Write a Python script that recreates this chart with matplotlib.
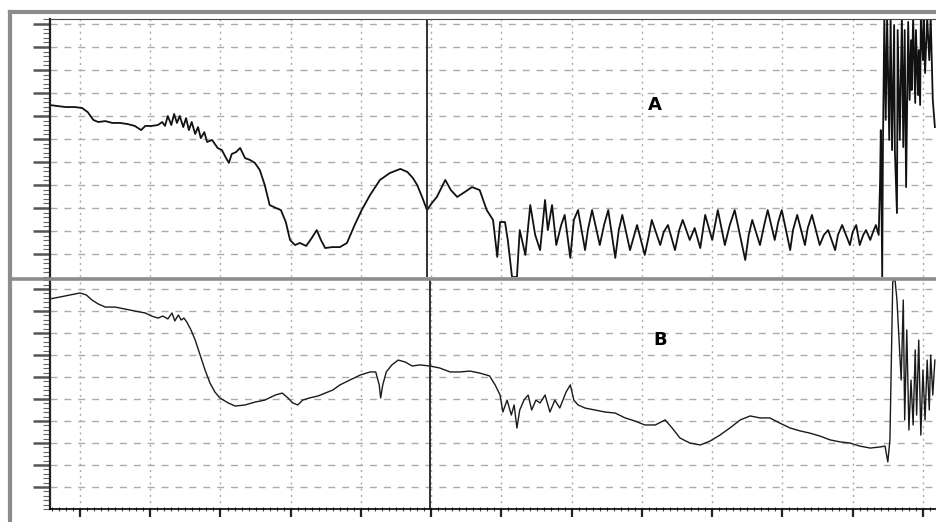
import matplotlib
matplotlib.use("Agg")
import matplotlib.pyplot as plt
import numpy as np
from matplotlib.ticker import AutoMinorLocator, FixedLocator
from matplotlib.lines import Line2D

# espectro A (x en divisiones de la rejilla, y en divisiones)
xa = [-0.43, -0.31, -0.20, -0.07, 0.03, 0.11, 0.19, 0.26, 0.36, 0.46, 0.57, 0.68, 0.78, 0.87, 0.93,
      1.02, 1.11, 1.17, 1.21, 1.25, 1.30, 1.34, 1.38, 1.42, 1.47, 1.51, 1.55, 1.59, 1.64, 1.68,
      1.72, 1.77, 1.81, 1.88, 1.96, 2.02, 2.08, 2.12, 2.16, 2.22, 2.28, 2.35, 2.42, 2.49, 2.56,
      2.63, 2.70, 2.79, 2.86, 2.93, 2.99, 3.06, 3.13, 3.22, 3.30, 3.37, 3.43, 3.49, 3.59, 3.70,
      3.80, 3.91, 4.01, 4.13, 4.27, 4.41, 4.56, 4.66, 4.74, 4.80, 4.87, 4.94, 5.01, 5.08, 5.20,
      5.28, 5.37, 5.48, 5.58, 5.69, 5.79, 5.88, 5.94, 5.98, 6.05, 6.09, 6.15, 6.22, 6.26,
      6.34, 6.41, 6.48, 6.55, 6.62, 6.66, 6.72, 6.78, 6.85, 6.90, 6.98, 7.03, 7.09, 7.19, 7.23,
      7.29, 7.40, 7.46, 7.52, 7.62, 7.67, 7.72, 7.83, 7.89, 7.93, 8.04, 8.10, 8.14, 8.26, 8.31,
      8.37, 8.47, 8.53, 8.58, 8.68, 8.75, 8.83, 8.90, 9.00, 9.08, 9.18, 9.25, 9.32, 9.47, 9.52,
      9.57, 9.68, 9.74, 9.79, 9.89, 9.94, 9.99, 10.11, 10.15, 10.21, 10.32, 10.36, 10.42, 10.53,
      10.59, 10.65, 10.75, 10.79, 10.85, 10.96, 11.00, 11.05, 11.10, 11.15, 11.19, 11.25, 11.29,
      11.33, 11.37, 11.39, 11.40, 11.42,
      11.43, 11.45, 11.47, 11.49, 11.52, 11.54, 11.56, 11.59, 11.60, 11.63, 11.64, 11.67, 11.70,
      11.72, 11.74, 11.76, 11.79, 11.81, 11.83, 11.84, 11.86, 11.89, 11.90, 11.93, 11.94, 11.96,
      11.97, 12.00, 12.01, 12.03, 12.06, 12.09, 12.11, 12.14, 12.17]
ya = [7.48, 7.43, 7.39, 7.39, 7.35, 7.17, 6.83, 6.74, 6.78, 6.70, 6.70, 6.65, 6.57, 6.39, 6.57,
      6.57, 6.61, 6.74, 6.57, 7.00, 6.61, 7.09, 6.70, 7.00, 6.52, 6.91, 6.39, 6.74, 6.22, 6.52,
      6.04, 6.30, 5.87, 5.96, 5.61, 5.52, 5.17, 4.96, 5.35, 5.43, 5.61, 5.17, 5.09, 4.96, 4.65,
      4.00, 3.13, 3.00, 2.91, 2.39, 1.61, 1.39, 1.48, 1.35, 1.70, 2.04, 1.61, 1.26, 1.30, 1.30,
      1.48, 2.26, 2.91, 3.57, 4.22, 4.52, 4.70, 4.57, 4.30, 4.00, 3.48, 2.91, 3.22, 3.48, 4.22,
      3.78, 3.48, 3.70, 3.91, 3.78, 2.91, 2.48, 0.87, 2.39, 2.39, 1.61, 0.00, 0.00, 2.04,
      0.96, 3.13, 1.83, 1.17, 3.35, 2.04, 3.13, 1.39, 2.26, 2.70, 0.83, 2.48, 2.91, 1.17, 2.04,
      2.91, 1.39, 2.26, 2.91, 0.83, 2.04, 2.70, 1.17, 1.83, 2.26, 0.96, 1.83, 2.48, 1.39, 1.96,
      2.26, 1.17, 2.04, 2.48, 1.61, 2.13, 1.26, 2.70, 1.61, 2.91, 1.39, 2.26, 2.91, 0.74, 1.83,
      2.48, 1.39, 2.26, 2.91, 1.61, 2.39, 2.91, 1.17, 2.04, 2.70, 1.39, 2.13, 2.70, 1.39,
      1.83, 2.04, 1.17, 1.83, 2.26, 1.39, 1.96, 2.26, 1.39, 1.83, 2.04, 1.61, 1.96,
      2.26, 1.83, 4.22, 6.39, 0.00,
      5.52, 11.3, 6.83, 11.3, 5.96, 11.3, 5.52, 10.96, 5.52, 2.78, 10.74, 5.96, 11.3,
      5.65, 10.74, 3.91, 11.09, 7.70, 10.30, 8.13, 11.3, 7.57, 10.74, 7.91, 9.87, 7.48,
      11.3, 9.43, 11.3, 8.87, 11.3, 9.43, 11.3, 7.70, 6.52]

# espectro B
xb = [-0.43, -0.28, -0.14, 0.00, 0.09, 0.17, 0.26, 0.36, 0.50, 0.64, 0.78, 0.93, 1.02, 1.11,
      1.18, 1.25, 1.31, 1.35, 1.40, 1.44, 1.48, 1.52, 1.58, 1.64, 1.71, 1.78, 1.85, 1.92, 1.99,
      2.11, 2.21, 2.35, 2.49, 2.63, 2.78, 2.88, 2.96, 3.03, 3.10, 3.17, 3.27, 3.39, 3.49, 3.60,
      3.70, 3.84, 3.99, 4.13, 4.21, 4.26, 4.28, 4.31, 4.36, 4.44, 4.53, 4.63, 4.73, 4.84, 4.98,
      5.12, 5.27, 5.41, 5.55, 5.69, 5.83, 5.91, 5.98, 6.02, 6.08, 6.14, 6.18, 6.22, 6.26, 6.32,
      6.38, 6.43, 6.49, 6.55, 6.62, 6.69, 6.76, 6.83, 6.92, 6.98, 7.03, 7.09, 7.19, 7.33, 7.47,
      7.62, 7.76, 7.90, 8.04, 8.19, 8.33, 8.43, 8.54, 8.68, 8.83, 8.97, 9.11, 9.25, 9.40, 9.54,
      9.68, 9.82, 9.96, 10.11, 10.25, 10.39, 10.53, 10.68, 10.82, 10.96, 11.10, 11.25, 11.39,
      11.46, 11.50, 11.53, 11.57, 11.60, 11.63, 11.66, 11.69, 11.72, 11.74, 11.77, 11.80, 11.83,
      11.86, 11.89, 11.91, 11.94, 11.97, 12.00, 12.03, 12.06, 12.09, 12.11, 12.14, 12.17]
yb = [9.55, 9.64, 9.73, 9.82, 9.73, 9.50, 9.32, 9.18, 9.18, 9.09, 9.00, 8.91, 8.77, 8.68,
      8.77, 8.64, 8.91, 8.55, 8.82, 8.59, 8.68, 8.50, 8.14, 7.68, 7.00, 6.32, 5.73, 5.32, 5.05,
      4.82, 4.68, 4.73, 4.86, 4.95, 5.18, 5.27, 5.05, 4.82, 4.73, 4.95, 5.05, 5.14, 5.27, 5.41,
      5.64, 5.86, 6.09, 6.23, 6.23, 5.64, 5.05, 5.64, 6.23, 6.55, 6.77, 6.68, 6.50, 6.55, 6.50,
      6.41, 6.23, 6.23, 6.27, 6.18, 6.05, 5.64, 5.18, 4.41, 4.95, 4.27, 4.73, 3.68, 4.50, 4.95,
      5.18, 4.50, 4.95, 4.82, 5.18, 4.41, 4.95, 4.59, 5.32, 5.64, 4.95, 4.73, 4.59, 4.50, 4.41,
      4.36, 4.14, 4.00, 3.82, 3.82, 4.05, 3.68, 3.23, 3.00, 2.91, 3.09, 3.36, 3.68, 4.05, 4.23,
      4.14, 4.14, 3.91, 3.68, 3.55, 3.45, 3.32, 3.14, 3.05, 3.00, 2.86, 2.77, 2.82,
      2.86, 2.14, 3.14, 10.32, 10.5, 9.50, 7.68, 5.86, 9.50, 4.05, 8.14, 3.59, 5.86,
      3.82, 7.23, 4.27, 7.68, 3.36, 6.32, 4.05, 6.77, 4.50, 7.00, 5.18, 6.77]

fig = plt.figure(figsize=(9.37, 5.22), dpi=100)
W, H = 937.0, 522.0

ax1 = fig.add_axes([50 / W, 1 - 277 / H, 887 / W, 258 / H])
ax2 = fig.add_axes([50 / W, 1 - 509 / H, 887 / W, 229 / H])

gris = "#ababab"
for ax, ymax, nmaj in [(ax1, 11.22, 11), (ax2, 10.41, 10)]:
    ax.set_xlim(-0.427, 12.2)
    ax.set_ylim(0, ymax)
    ax.xaxis.set_major_locator(FixedLocator(np.arange(13)))
    ax.yaxis.set_major_locator(FixedLocator(np.arange(1, nmaj + 1)))
    ax.yaxis.set_minor_locator(AutoMinorLocator(5))
    ax.xaxis.set_minor_locator(AutoMinorLocator(10))
    ax.grid(axis="y", which="major", color=gris, lw=1.0, ls=(0, (5, 5)))
    ax.grid(axis="x", which="major", color=gris, lw=1.0, ls=(0, (1.5, 3)))
    ax.set_yticklabels([])
    ax.set_xticklabels([])
    ax.tick_params(axis="y", which="major", length=12, width=1.8, color="#555555", direction="out")
    ax.tick_params(axis="y", which="minor", length=5, width=0.8, color="#666666", direction="out")
    ax.spines["right"].set_visible(False)
    ax.spines["left"].set_linewidth(1.6)
    ax.spines["left"].set_color("#222222")

ax1.spines["bottom"].set_visible(False)
ax1.spines["top"].set_linewidth(0.8)
ax1.spines["top"].set_color("#444444")
ax1.tick_params(axis="x", which="both", length=0)

ax2.spines["top"].set_visible(False)
ax2.spines["bottom"].set_linewidth(1.2)
ax2.tick_params(axis="x", which="major", length=6, width=1.6, color="#222222", direction="out")
ax2.tick_params(axis="x", which="minor", length=3, width=0.8, color="#444444", direction="inout")

ax1.plot(xa, ya, color="#111111", lw=1.3)
ax2.plot(xb, yb, color="#1a1a1a", lw=1.0)

# lineas del cursor
ax1.axvline(4.94, color="#222222", lw=1.3)
ax2.axvline(4.98, color="#222222", lw=1.3)

ax1.text(8.19, 7.48, "A", fontsize=13, fontweight="bold", ha="center", va="center")
ax2.text(8.26, 7.68, "B", fontsize=13, fontweight="bold", ha="center", va="center")

# marco de la ventana
fig.add_artist(Line2D([10 / W, 1], [1 - 12 / H, 1 - 12 / H], color="#8c8c8c", lw=3))
fig.add_artist(Line2D([10 / W, 10 / W], [0, 1 - 12 / H], color="#8c8c8c", lw=3))
fig.add_artist(Line2D([10 / W, 1], [1 - 278.5 / H, 1 - 278.5 / H], color="#8c8c8c", lw=2.6))

fig.savefig("out.png", dpi=100)
